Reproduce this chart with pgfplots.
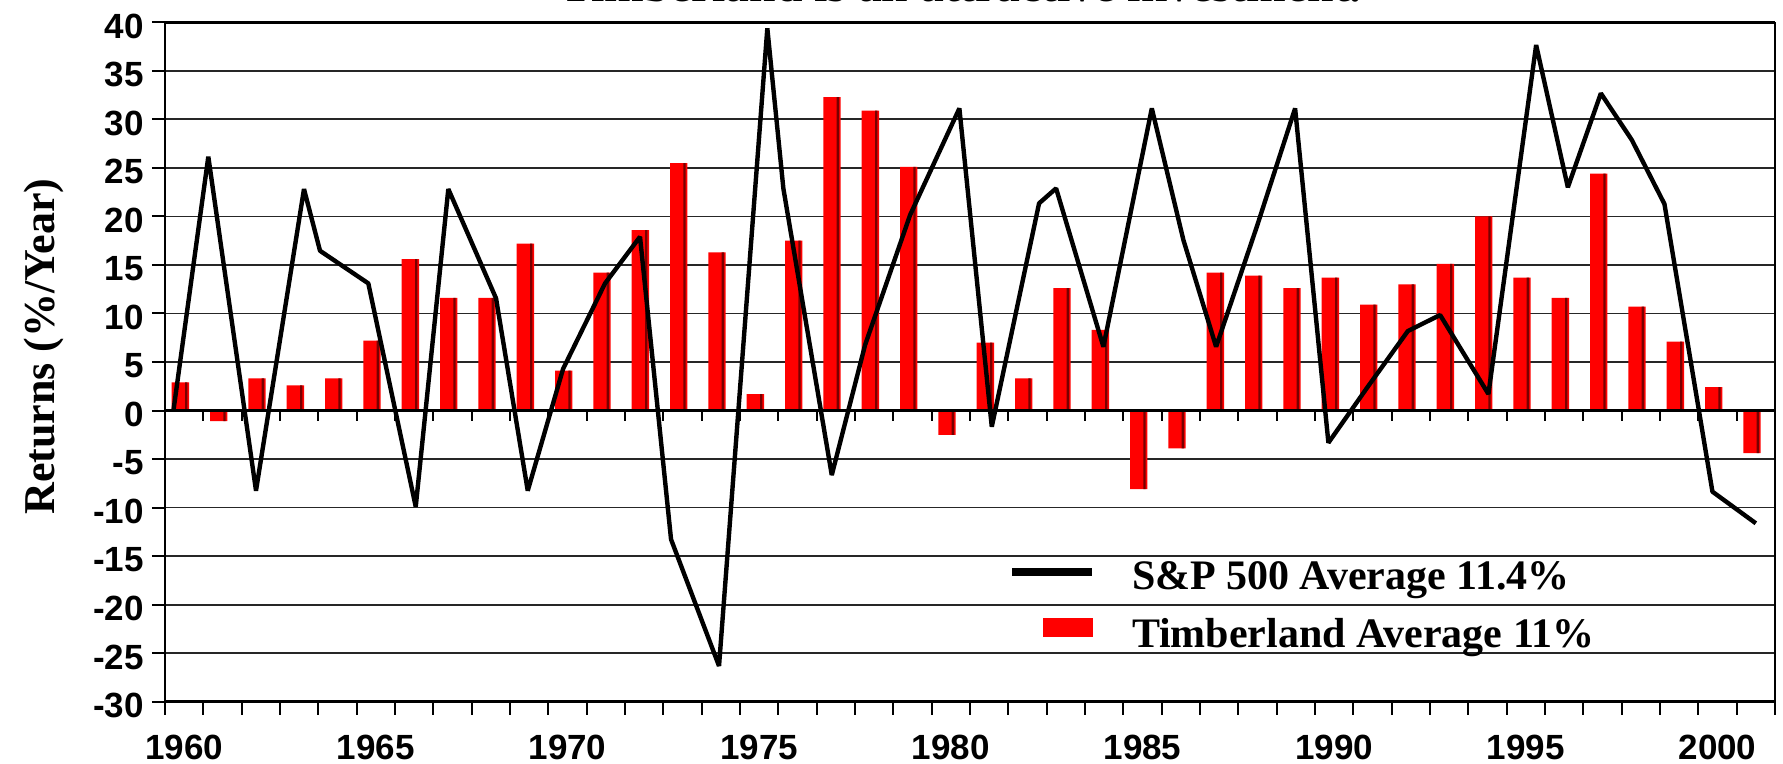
\documentclass[border=0pt]{standalone}
\usepackage{pgfplots}
\pgfplotsset{compat=1.18}
\usepackage{pgfplotstable}
\usepackage{fontspec}
\setmainfont{Liberation Serif}
\newfontfamily\arialf{Liberation Sans}
\definecolor{barred}{RGB}{255,0,0}
\definecolor{bardark}{RGB}{120,0,0}

\pgfplotstableread{
i v
0 2.9
1 -1.1
2 3.3
3 2.6
4 3.3
5 7.2
6 15.6
7 11.6
8 11.6
9 17.2
10 4.1
11 14.2
12 18.6
13 25.5
14 16.3
15 1.7
16 17.5
17 32.3
18 30.9
19 25.1
20 -2.5
21 7.0
22 3.3
23 12.6
24 8.3
25 -8.1
26 -3.9
27 14.2
28 13.9
29 12.6
30 13.7
31 10.9
32 13.0
33 15.1
34 20.0
35 13.7
36 11.6
37 24.4
38 10.7
39 7.1
40 2.4
41 -4.4
}\timber

\pgfplotstableread{
u v
-0.283 -0.1
0.630 26.15
1.874 -8.26
3.126 22.82
3.544 16.46
4.804 13.1
6.041 -9.91
6.891 22.82
8.136 11.56
8.963 -8.26
9.884 4.28
10.979 13.1
11.892 17.9
12.701 -13.27
13.953 -26.32
15.213 39.38
15.631 22.89
16.894 -6.65
17.763 6.75
18.937 20.14
20.223 31.13
21.068 -1.67
22.302 21.35
22.746 22.89
23.980 6.57
25.243 31.13
26.067 17.57
26.920 6.57
27.982 18.94
28.981 31.13
29.850 -3.32
30.85 2.3
31.922 8.19
32.764 9.84
34.024 1.70
35.269 37.66
36.096 23.0
36.957 32.68
37.766 27.87
38.616 21.28
39.868 -8.36
41.0 -11.62
}\sp

\begin{document}
\begin{tikzpicture}
\begin{axis}[
  at={(0,0)}, anchor=south west,
  scale only axis, width=805pt, height=339.7pt,
  xmin=-0.5, xmax=41.5, ymin=-30, ymax=40,
  separate axis lines,
  x axis line style={line width=1.8pt},
  y axis line style={line width=1.2pt},
  xtick={-0.5,0.5,...,41.5}, xticklabels={},
  extra x ticks={0,5,10,15,20,25,30,35,40},
  extra x tick labels={1960,1965,1970,1975,1980,1985,1990,1995,2000},
  extra x tick style={major tick length=0pt, grid=none},
  xtick pos=bottom, ytick pos=left,
  tick align=outside,
  major tick length=6.5pt,
  tick style={line width=1pt, black},
  ytick={-30,-25,...,40},
  yticklabels={-30,-25,-20,-15,-10,-5,0,5,10,15,20,25,30,35,40},
  ymajorgrids, grid style={line width=0.9pt, black!85},
  xticklabel style={font=\fontsize{17.5}{20}\selectfont\arialf\bfseries, inner sep=0pt, anchor=north, yshift=-16.5pt},
  yticklabel style={font=\fontsize{17.5}{20}\selectfont\arialf\bfseries, inner sep=0pt, anchor=east, xshift=-4pt, yshift=-2pt},
  ylabel={Returns (\%/Year)},
  ylabel style={at={(axis description cs:-0.0686,0.5225)}, anchor=base, font=\fontsize{22}{26}\selectfont\bfseries, inner sep=0pt},
  title={Timberland is an attractive investment.},
  title style={at={(axis description cs:0.4944,1.0133)}, anchor=base, font=\fontsize{23.8}{28}\selectfont\bfseries, inner sep=0pt},
  legend cell align=left,
  reverse legend,
  legend style={at={(axis description cs:0.5236,0.2086)}, anchor=north west,
    draw=none, fill=none, inner sep=0pt, outer sep=0pt,
    row sep=8.85pt, column sep=18pt,
    font=\fontsize{21}{25}\selectfont\bfseries,
    cells={anchor=base west},
    nodes={inner sep=0pt, text height=15pt, text depth=5pt}},
]
\addplot[ybar, bar width=0.454, bar shift=-0.099, fill=barred, draw=none,
  legend image code/.code={\fill[barred] (15.5pt,5.25pt) rectangle (40.5pt,14.75pt);}]
  table[x=i, y=v] {\timber};
\addlegendentry{Timberland Average 11\%}
\addplot[ybar, bar width=0.06, bar shift=0.053, fill=bardark, draw=none, forget plot]
  table[x=i, y=v] {\timber};
\addplot[black, line width=2.2pt, line join=bevel, mark=none,
  legend image code/.code={\draw[line width=4pt, black] (0pt,9.15pt) -- (40pt,9.15pt);}]
  table[x=u, y=v] {\sp};
\addlegendentry{S\&P 500 Average 11.4\%}
\end{axis}
\begin{axis}[
  at={(0,0)}, anchor=south west,
  scale only axis, width=805pt, height=339.7pt,
  xmin=-0.5, xmax=41.5, ymin=-30, ymax=40,
  axis x line=middle, axis y line=none,
  x axis line style={line width=1.7pt, -},
  xtick={-0.5,0.5,...,41.5}, xticklabels={},
  ytick=\empty,
  tick align=outside,
  major tick length=5pt,
  tick style={line width=1pt, black},
]
\end{axis}
\pgfresetboundingbox
\path[use as bounding box] (-82.5pt,-31.15pt) rectangle (809pt,350.85pt);
\end{tikzpicture}
\end{document}
